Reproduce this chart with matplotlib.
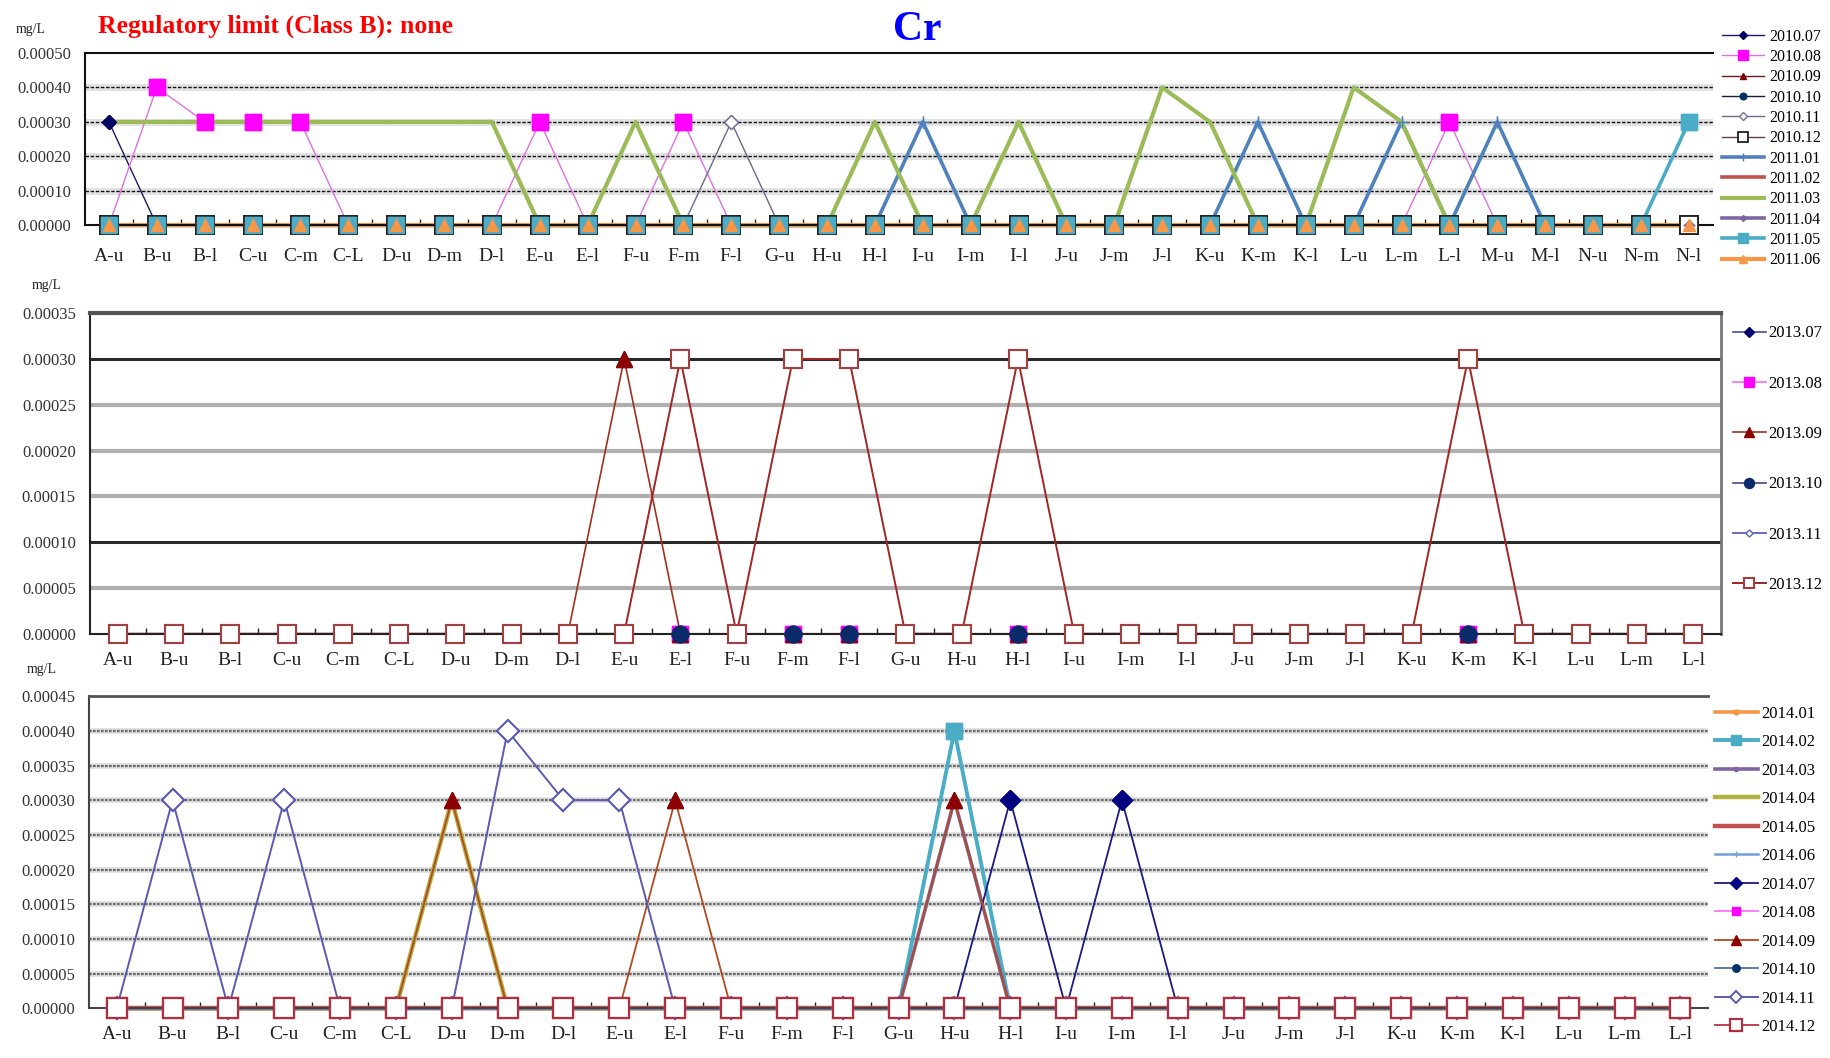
import matplotlib
matplotlib.use("Agg")
import matplotlib.pyplot as plt
import numpy as np
from matplotlib.ticker import FixedLocator

plt.rcParams['font.family'] = ['Liberation Serif', 'DejaVu Serif']

# ---------------- data ----------------
cats_top = ["A-u", "B-u", "B-l", "C-u", "C-m", "C-L", "D-u", "D-m", "D-l", "E-u",
            "E-l", "F-u", "F-m", "F-l", "G-u", "H-u", "H-l", "I-u", "I-m", "I-l",
            "J-u", "J-m", "J-l", "K-u", "K-m", "K-l", "L-u", "L-m", "L-l", "M-u",
            "M-l", "N-u", "N-m", "N-l"]
cats_mid = ["A-u", "B-u", "B-l", "C-u", "C-m", "C-L", "D-u", "D-m", "D-l", "E-u",
            "E-l", "F-u", "F-m", "F-l", "G-u", "H-u", "H-l", "I-u", "I-m", "I-l",
            "J-u", "J-m", "J-l", "K-u", "K-m", "K-l", "L-u", "L-m", "L-l"]
cats_bot = ["A-u", "B-u", "B-l", "C-u", "C-m", "C-L", "D-u", "D-m", "D-l", "E-u",
            "E-l", "F-u", "F-m", "F-l", "G-u", "H-u", "H-l", "I-u", "I-m", "I-l",
            "J-u", "J-m", "J-l", "K-u", "K-m", "K-l", "L-u", "L-m", "L-l"]

# 2010.07 - 2011.06 (mg/L), 34 sites
s2010_07 = [3e-4, 0, 0, 0, 0, 0, 0, 0, 0, 0, 0, 0, 0, 0, 0, 0, 0, 0, 0, 0, 0, 0, 0, 0, 0, 0, 0, 0, 0, 0, 0, 0, 0, 0]
s2010_08 = [0, 4e-4, 3e-4, 3e-4, 3e-4, 0, 0, 0, 0, 3e-4, 0, 0, 3e-4, 0, 0, 0, 0, 0, 0, 0, 0, 0, 0, 0, 0, 0, 0, 0, 3e-4, 0, 0, 0, 0, 0]
s2010_09 = [0, 0, 0, 0, 0, 0, 0, 0, 0, 0, 0, 0, 0, 0, 0, 0, 0, 0, 0, 0, 0, 0, 0, 0, 0, 0, 0, 0, 0, 0, 0, 0, 0, 0]
s2010_10 = [0, 0, 0, 0, 0, 0, 0, 0, 0, 0, 0, 0, 0, 0, 0, 0, 0, 0, 0, 0, 0, 0, 0, 0, 0, 0, 0, 0, 0, 0, 0, 0, 0, 0]
s2010_11 = [0, 0, 0, 0, 0, 0, 0, 0, 0, 0, 0, 0, 0, 3e-4, 0, 0, 0, 0, 0, 0, 0, 0, 0, 0, 0, 0, 0, 0, 0, 0, 0, 0, 0, 0]
s2010_12 = [0, 0, 0, 0, 0, 0, 0, 0, 0, 0, 0, 0, 0, 0, 0, 0, 0, 0, 0, 0, 0, 0, 0, 0, 0, 0, 0, 0, 0, 0, 0, 0, 0, 0]
s2011_01 = [0, 0, 0, 0, 0, 0, 0, 0, 0, 0, 0, 0, 0, 0, 0, 0, 0, 3e-4, 0, 0, 0, 0, 0, 0, 3e-4, 0, 0, 3e-4, 0, 3e-4, 0, 0, 0, 0]
s2011_02 = [0, 0, 0, 0, 0, 0, 0, 0, 0, 0, 0, 0, 0, 0, 0, 0, 0, 0, 0, 0, 0, 0, 0, 0, 0, 0, 0, 0, 0, 0, 0, 0, 0, 0]
s2011_03 = [3e-4, 3e-4, 3e-4, 3e-4, 3e-4, 3e-4, 3e-4, 3e-4, 3e-4, 0, 0, 3e-4, 0, 0, 0, 0, 3e-4, 0, 0, 3e-4, 0, 0, 4e-4, 3e-4, 0, 0, 4e-4, 3e-4, 0, 0, 0, 0, 0, 0]
s2011_04 = [0, 0, 0, 0, 0, 0, 0, 0, 0, 0, 0, 0, 0, 0, 0, 0, 0, 0, 0, 0, 0, 0, 0, 0, 0, 0, 0, 0, 0, 0, 0, 0, 0, 0]
s2011_05 = [0, 0, 0, 0, 0, 0, 0, 0, 0, 0, 0, 0, 0, 0, 0, 0, 0, 0, 0, 0, 0, 0, 0, 0, 0, 0, 0, 0, 0, 0, 0, 0, 0, 3e-4]
s2011_06 = [0, 0, 0, 0, 0, 0, 0, 0, 0, 0, 0, 0, 0, 0, 0, 0, 0, 0, 0, 0, 0, 0, 0, 0, 0, 0, 0, 0, 0, 0, 0, 0, 0, 0]
names_top = ["2010.07", "2010.08", "2010.09", "2010.10", "2010.11", "2010.12",
             "2011.01", "2011.02", "2011.03", "2011.04", "2011.05", "2011.06"]
vals_top = [s2010_07, s2010_08, s2010_09, s2010_10, s2010_11, s2010_12,
            s2011_01, s2011_02, s2011_03, s2011_04, s2011_05, s2011_06]

# 2013.07 - 2013.12 (mg/L), 29 sites
s2013_07 = [0, 0, 0, 0, 0, 0, 0, 0, 0, 0, 0, 0, 0, 0, 0, 0, 0, 0, 0, 0, 0, 0, 0, 0, 0, 0, 0, 0, 0]
s2013_08 = [0, 0, 0, 0, 0, 0, 0, 0, 0, 0, 0, 0, 0, 0, 0, 0, 0, 0, 0, 0, 0, 0, 0, 0, 0, 0, 0, 0, 0]
s2013_09 = [0, 0, 0, 0, 0, 0, 0, 0, 0, 3e-4, 0, 0, 0, 0, 0, 0, 0, 0, 0, 0, 0, 0, 0, 0, 0, 0, 0, 0, 0]
s2013_10 = [0, 0, 0, 0, 0, 0, 0, 0, 0, 0, 0, 0, 0, 0, 0, 0, 0, 0, 0, 0, 0, 0, 0, 0, 0, 0, 0, 0, 0]
s2013_11 = [0, 0, 0, 0, 0, 0, 0, 0, 0, 0, 0, 0, 0, 0, 0, 0, 0, 0, 0, 0, 0, 0, 0, 0, 0, 0, 0, 0, 0]
s2013_12 = [0, 0, 0, 0, 0, 0, 0, 0, 0, 0, 3e-4, 0, 3e-4, 3e-4, 0, 0, 3e-4, 0, 0, 0, 0, 0, 0, 0, 3e-4, 0, 0, 0, 0]
names_mid = ["2013.07", "2013.08", "2013.09", "2013.10", "2013.11", "2013.12"]
vals_mid = [s2013_07, s2013_08, s2013_09, s2013_10, s2013_11, s2013_12]

# 2014.01 - 2014.12 (mg/L), 29 sites
s2014_01 = [0, 0, 0, 0, 0, 0, 0, 0, 0, 0, 0, 0, 0, 0, 0, 0, 0, 0, 0, 0, 0, 0, 0, 0, 0, 0, 0, 0, 0]
s2014_02 = [0, 0, 0, 0, 0, 0, 0, 0, 0, 0, 0, 0, 0, 0, 0, 4e-4, 0, 0, 0, 0, 0, 0, 0, 0, 0, 0, 0, 0, 0]
s2014_03 = [0, 0, 0, 0, 0, 0, 0, 0, 0, 0, 0, 0, 0, 0, 0, 3e-4, 0, 0, 0, 0, 0, 0, 0, 0, 0, 0, 0, 0, 0]
s2014_04 = [0, 0, 0, 0, 0, 0, 3e-4, 0, 0, 0, 0, 0, 0, 0, 0, 0, 0, 0, 0, 0, 0, 0, 0, 0, 0, 0, 0, 0, 0]
s2014_05 = [0, 0, 0, 0, 0, 0, 0, 0, 0, 0, 0, 0, 0, 0, 0, 0, 0, 0, 0, 0, 0, 0, 0, 0, 0, 0, 0, 0, 0]
s2014_06 = [0, 0, 0, 0, 0, 0, 0, 0, 0, 0, 0, 0, 0, 0, 0, 0, 0, 0, 0, 0, 0, 0, 0, 0, 0, 0, 0, 0, 0]
s2014_07 = [0, 0, 0, 0, 0, 0, 0, 0, 0, 0, 0, 0, 0, 0, 0, 0, 3e-4, 0, 3e-4, 0, 0, 0, 0, 0, 0, 0, 0, 0, 0]
s2014_08 = [0, 0, 0, 0, 0, 0, 0, 0, 0, 0, 0, 0, 0, 0, 0, 0, 0, 0, 0, 0, 0, 0, 0, 0, 0, 0, 0, 0, 0]
s2014_09 = [0, 0, 0, 0, 0, 0, 3e-4, 0, 0, 0, 3e-4, 0, 0, 0, 0, 3e-4, 0, 0, 0, 0, 0, 0, 0, 0, 0, 0, 0, 0, 0]
s2014_10 = [0, 0, 0, 0, 0, 0, 0, 0, 0, 0, 0, 0, 0, 0, 0, 0, 0, 0, 0, 0, 0, 0, 0, 0, 0, 0, 0, 0, 0]
s2014_11 = [0, 3e-4, 0, 3e-4, 0, 0, 0, 4e-4, 3e-4, 3e-4, 0, 0, 0, 0, 0, 0, 0, 0, 0, 0, 0, 0, 0, 0, 0, 0, 0, 0, 0]
s2014_12 = [0, 0, 0, 0, 0, 0, 0, 0, 0, 0, 0, 0, 0, 0, 0, 0, 0, 0, 0, 0, 0, 0, 0, 0, 0, 0, 0, 0, 0]
names_bot = ["2014.01", "2014.02", "2014.03", "2014.04", "2014.05", "2014.06",
             "2014.07", "2014.08", "2014.09", "2014.10", "2014.11", "2014.12"]
vals_bot = [s2014_01, s2014_02, s2014_03, s2014_04, s2014_05, s2014_06,
            s2014_07, s2014_08, s2014_09, s2014_10, s2014_11, s2014_12]

yticks_top = [0, 1e-4, 2e-4, 3e-4, 4e-4, 5e-4]
yticks_mid = [0, 5e-5, 1e-4, 1.5e-4, 2e-4, 2.5e-4, 3e-4, 3.5e-4]
yticks_bot = [0, 5e-5, 1e-4, 1.5e-4, 2e-4, 2.5e-4, 3e-4, 3.5e-4, 4e-4, 4.5e-4]

title_text = "Cr"
limit_text = "Regulatory limit (Class B): none"
unit_text = "mg/L"

# ---------------- styles ----------------
styles_top = {
    "2010.07": dict(color="#1a1a5e", lw=1.0, marker="D", ms=7, mfc="#000060", mec="#000060"),
    "2010.08": dict(color="#e070e0", lw=1.0, marker="s", ms=11, mfc="#ff00ff", mec="#ff00ff"),
    "2010.09": dict(color="#6b1a1a", lw=1.0, marker="^", ms=8, mfc="#800000", mec="#800000"),
    "2010.10": dict(color="#1a1a40", lw=1.0, marker="o", ms=8, mfc="#003366", mec="#003366"),
    "2010.11": dict(color="#6a6a8a", lw=1.0, marker="D", ms=7, mfc="white", mec="#7070a0"),
    "2010.12": dict(color="#6a4040", lw=1.0, marker="s", ms=13, mfc="white", mec="#202020", mew=1.3),
    "2011.01": dict(color="#4f81bd", lw=2.6, marker="+", ms=9, mec="#4f81bd"),
    "2011.02": dict(color="#c0504d", lw=2.6),
    "2011.03": dict(color="#9bbb59", lw=3.0),
    "2011.04": dict(color="#8064a2", lw=2.6, marker="D", ms=5, mfc="#8064a2", mec="#8064a2"),
    "2011.05": dict(color="#4bacc6", lw=2.6, marker="s", ms=11, mfc="#4bacc6", mec="#4bacc6"),
    "2011.06": dict(color="#f79646", lw=3.0, marker="^", ms=9, mfc="#f79646", mec="#f79646"),
}
styles_mid = {
    "2013.07": dict(color="#4050a0", lw=1.2, marker="D", ms=8, mfc="#000070", mec="#000070"),
    "2013.08": dict(color="#f070f0", lw=1.2, marker="s", ms=12, mfc="#ff00ff", mec="#ff00ff"),
    "2013.09": dict(color="#a03020", lw=1.2, marker="^", ms=11, mfc="#8b0000", mec="#8b0000"),
    "2013.10": dict(color="#404880", lw=1.2, marker="o", ms=12, mfc="#0a2a6a", mec="#0a2a6a"),
    "2013.11": dict(color="#6a6ac8", lw=1.4, marker="D", ms=6, mfc="white", mec="#6060b0"),
    "2013.12": dict(color="#a02525", lw=1.4, marker="s", ms=13, mfc="white", mec="#a04040", mew=1.5),
}
styles_bot = {
    "2014.01": dict(color="#f79646", lw=2.6, marker="o", ms=6, mfc="#f79646", mec="#f79646"),
    "2014.02": dict(color="#4bacc6", lw=2.8, marker="s", ms=11, mfc="#4bacc6", mec="#4bacc6"),
    "2014.03": dict(color="#8064a2", lw=2.6, marker="o", ms=5, mfc="#8064a2", mec="#8064a2"),
    "2014.04": dict(color="#b5b040", lw=3.2),
    "2014.05": dict(color="#c0504d", lw=3.2),
    "2014.06": dict(color="#6fa0dc", lw=1.8, marker="+", ms=8, mec="#6fa0dc"),
    "2014.07": dict(color="#1a1a80", lw=1.3, marker="D", ms=10, mfc="#000080", mec="#000080"),
    "2014.08": dict(color="#ff70ff", lw=1.3, marker="s", ms=10, mfc="#ff00ff", mec="#ff00ff"),
    "2014.09": dict(color="#b04a20", lw=1.3, marker="^", ms=12, mfc="#8b0000", mec="#8b0000"),
    "2014.10": dict(color="#5070a0", lw=1.3, marker="o", ms=9, mfc="#003366", mec="#003366"),
    "2014.11": dict(color="#5a5ab0", lw=1.4, marker="D", ms=11, mfc="white", mec="#5a5ab0", mew=1.4),
    "2014.12": dict(color="#c04050", lw=1.4, marker="s", ms=14, mfc="white", mec="#b03040", mew=1.6),
}
marker_z = {"2013.11": 2.9}

W, H = 1831, 1058
fig = plt.figure(figsize=(W / 100, H / 100), dpi=100)
fig.patch.set_facecolor("white")


def draw_series(ax, cats, names, vals, styles):
    x = np.arange(len(cats))
    for i, (name, v) in enumerate(zip(names, vals)):
        st = styles[name]
        ax.plot(x, v, label=name, clip_on=False, zorder=2 + i * 0.01, **st)
        if "marker" in st:
            mst = {k: st[k] for k in st if k not in ("lw",)}
            ax.plot(x, v, ls="none", clip_on=False,
                    zorder=marker_z.get(name, 3 + i * 0.01), **mst)
    ax.set_xlim(-0.5, len(cats) - 0.5)
    ax.set_xticks(x)
    ax.set_xticklabels(cats, fontsize=14)
    ax.xaxis.set_minor_locator(FixedLocator(np.arange(len(cats) - 1) + 0.5))
    ax.tick_params(axis="x", which="major", length=0, pad=13, colors="#222222")
    ax.tick_params(axis="x", which="minor", length=4, width=1, direction="in", color="#222222")
    ax.tick_params(axis="y", length=0, pad=10, labelsize=12, colors="#333333")


def fmt_y(ax, ticks):
    ax.set_yticks(ticks)
    ax.set_yticklabels(["%.5f" % t for t in ticks])
    ax.set_ylim(0, ticks[-1])


# ---------------- top panel ----------------
ax1 = fig.add_axes([0.0464, 0.787, 0.889, 0.163])
for t in yticks_top[1:-1]:
    ax1.axhline(t, color="#e2e2e2", lw=5, zorder=0.5)
    ax1.axhline(t, color="#111111", lw=1.0, ls=(0, (2.5, 1.2)), zorder=0.6)
draw_series(ax1, cats_top, names_top, vals_top, styles_top)
fmt_y(ax1, yticks_top)
ax1.tick_params(axis="x", which="major", pad=16)
for s in ("top", "left", "bottom"):
    ax1.spines[s].set_color("#111111")
    ax1.spines[s].set_linewidth(1.5)
ax1.spines["right"].set_visible(False)
ax1.legend(loc="upper left", bbox_to_anchor=(1.006, 1.14), frameon=False,
           fontsize=11.5, labelspacing=0.27, handlelength=2.6, handletextpad=0.3,
           markerscale=0.6, borderaxespad=0, borderpad=0)

# ---------------- middle panel ----------------
ax2 = fig.add_axes([0.049, 0.401, 0.891, 0.303])
for t in yticks_mid[1:-1]:
    if abs(t - 1e-4) < 1e-9 or abs(t - 3e-4) < 1e-9:
        ax2.axhline(t, color="#2a2a2a", lw=2.2, zorder=0.6)
    else:
        ax2.axhline(t, color="#b0b0b0", lw=3.0, zorder=0.6)
draw_series(ax2, cats_mid, names_mid, vals_mid, styles_mid)
fmt_y(ax2, yticks_mid)
ax2.spines["top"].set_color("#555555")
ax2.spines["top"].set_linewidth(3)
ax2.spines["right"].set_color("#777777")
ax2.spines["right"].set_linewidth(2)
ax2.spines["left"].set_color("#222222")
ax2.spines["left"].set_linewidth(1.5)
ax2.spines["bottom"].set_color("#222222")
ax2.spines["bottom"].set_linewidth(1.5)
ax2.legend(loc="upper left", bbox_to_anchor=(1.007, 0.962), frameon=False,
           fontsize=12, labelspacing=2.06, handlelength=2.0, handletextpad=0.15,
           markerscale=0.6, borderaxespad=0, borderpad=0)

# ---------------- bottom panel ----------------
ax3 = fig.add_axes([0.0485, 0.047, 0.8845, 0.295])
for t in yticks_bot[1:-1]:
    ax3.axhline(t, color="#dddddd", lw=4, zorder=0.5)
    ax3.axhline(t, color="#6a6a6a", lw=1.6, ls=(0, (1.2, 0.6)), zorder=0.6)
draw_series(ax3, cats_bot, names_bot, vals_bot, styles_bot)
fmt_y(ax3, yticks_bot)
ax3.spines["top"].set_color("#555555")
ax3.spines["top"].set_linewidth(2)
ax3.spines["right"].set_visible(False)
ax3.spines["left"].set_color("#444444")
ax3.spines["left"].set_linewidth(1.5)
ax3.spines["bottom"].set_color("#444444")
ax3.spines["bottom"].set_linewidth(1.5)
ax3.legend(loc="upper left", bbox_to_anchor=(1.004, 0.97), frameon=False,
           fontsize=12, labelspacing=0.75, handlelength=2.6, handletextpad=0.2,
           markerscale=0.6, borderaxespad=0, borderpad=0)

# ---------------- texts ----------------
fig.text(0.501, 0.972, title_text, color="#0000ff", fontsize=30, fontweight="bold",
         ha="center", va="center")
fig.text(0.0535, 0.975, limit_text, color="#ff0000", fontsize=18.5, fontweight="bold",
         ha="left", va="center")
fig.text(0.017, 0.972, unit_text, fontsize=10, ha="center", va="center", color="#222222")
fig.text(0.0255, 0.730, unit_text, fontsize=10, ha="center", va="center", color="#222222")
fig.text(0.023, 0.367, unit_text, fontsize=10, ha="center", va="center", color="#222222")

fig.savefig("out.png", dpi=100, facecolor="white")
